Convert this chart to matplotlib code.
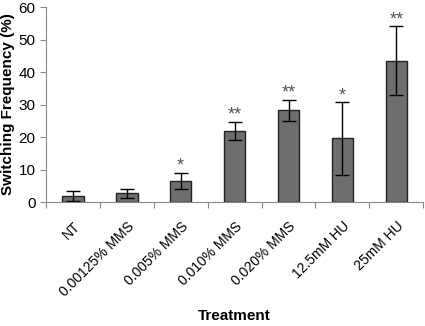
import numpy as np
import matplotlib.pyplot as plt

plt.rcParams['font.family'] = ['Liberation Sans', 'DejaVu Sans']

# data
treatments = ['NT', '0.00125% MMS', '0.005% MMS', '0.010% MMS',
              '0.020% MMS', '12.5mM HU', '25mM HU']
freq = [2.0, 2.8, 6.7, 22.0, 28.3, 19.7, 43.6]
err = [1.6, 1.3, 2.5, 2.8, 3.3, 11.2, 10.6]
stars = ['', '', '*', '**', '**', '*', '**']

fig = plt.figure(figsize=(4.25, 3.26), dpi=100)
ax = fig.add_axes([0.108, 0.379, 0.888, 0.598])

x = np.arange(len(treatments))
ax.bar(x, freq, width=0.4, color='#6e6e6e', edgecolor='#222222', linewidth=1.0,
       yerr=err, error_kw=dict(ecolor='black', elinewidth=1.0, capsize=5, capthick=1.0))

for xi, f, e, s in zip(x, freq, err, stars):
    if s:
        ax.text(xi, f + e - 0.6, s, ha='center', va='bottom', fontsize=13, color='#555555')

ax.set_xlim(-0.5, len(treatments) - 0.5)
ax.set_ylim(0, 60)
ax.set_yticks(np.arange(0, 61, 10))
ax.set_xticks(np.arange(-0.5, len(treatments), 1.0))
ax.set_xticklabels([])
ax.set_xticks(x, minor=True)
ax.set_xticklabels(treatments, minor=True, rotation=45, ha='right', rotation_mode='anchor', fontsize=10)
ax.tick_params(axis='x', which='minor', length=0, pad=12)
ax.tick_params(axis='x', which='major', length=4, color='#888888')
ax.tick_params(axis='y', length=4, color='#888888', labelsize=11)

for side in ['top', 'right']:
    ax.spines[side].set_visible(False)
for side in ['left', 'bottom']:
    ax.spines[side].set_color('#888888')

fig.text(0.002, 0.68, 'Switching Frequency (%)', rotation=90, ha='left', va='center',
         fontsize=11, fontweight='bold')
fig.text(0.55, 0.01, 'Treatment', ha='center', va='bottom', fontsize=11, fontweight='bold')

plt.savefig('out.png', dpi=100)
